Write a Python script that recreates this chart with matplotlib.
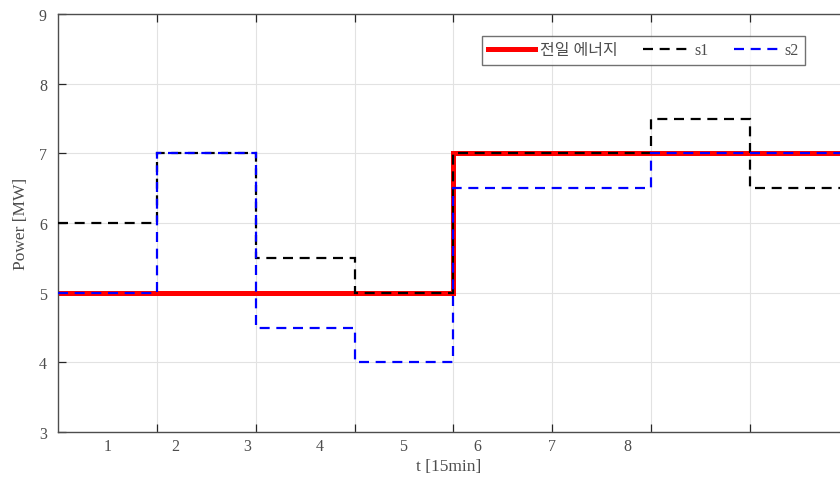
import numpy as np
import matplotlib
matplotlib.use("Agg")
import matplotlib.pyplot as plt
from matplotlib.transforms import blended_transform_factory

plt.rcParams['font.family'] = ['Liberation Serif', 'Noto Sans CJK KR']

# ── data ─────────────────────────────────────────────────────────────────────
edges    = [0, 1, 2, 3, 4, 5, 6, 7, 8]
prev_day = [5, 5, 5, 5, 7, 7, 7, 7]
s1       = [6, 7, 5.5, 5, 7, 7, 7.5, 6.5]
s2       = [5, 7, 4.5, 4, 6.5, 6.5, 7, 7]

tick_labels = ["1", "2", "3", "4", "5", "6", "7", "8"]
label_pos   = [0.50, 1.19, 1.91, 2.65, 3.49, 4.24, 5.00, 5.76]

fig = plt.figure(figsize=(8.4, 4.81), dpi=100)
ax = fig.add_axes([58 / 840, 1 - 433 / 481, 1 - 58 / 840, (433 - 15) / 481])

ax.stairs(prev_day, edges, baseline=None, color="#ff0000", lw=3.6,
          label="전일 에너지", zorder=2)
ax.stairs(s1, edges, baseline=None, color="black", lw=1.6,
          linestyle=(0, (4.5, 3)), label="s1", zorder=3)
ax.stairs(s2, edges, baseline=None, color="#0000ff", lw=1.6,
          linestyle=(0, (4.5, 3)), label="s2", zorder=4)

ax.set_xlim(0, 7.91)
ax.set_ylim(3, 9)
ax.set_xticks(range(1, 8))
ax.set_xticklabels([])
ax.set_yticks(range(3, 10))
ax.grid(True, color="#e2e2e2", lw=0.8, zorder=0)
ax.set_axisbelow(True)

ax.tick_params(axis="both", direction="in", length=6, width=0.9,
               colors="#262626", labelcolor="#4d4d4d", labelsize=11.5,
               top=True)
ax.tick_params(axis="y", pad=8)
for side in ("left", "bottom", "top"):
    ax.spines[side].set_color("#4d4d4d")
    ax.spines[side].set_linewidth(1.0)
ax.spines["right"].set_visible(False)

# tick labels sit off the tick marks in the original
trans = blended_transform_factory(ax.transData, ax.transAxes)
for pos, lab in zip(label_pos, tick_labels):
    ax.text(pos, -0.014, lab, transform=trans, ha="center", va="top",
            fontsize=11.5, color="#4d4d4d")

ax.set_xlabel("t [15min]", fontsize=12.5, color="#4d4d4d", labelpad=15)
ax.set_ylabel("Power [MW]", fontsize=12.5, color="#4d4d4d", labelpad=7)

leg = ax.legend(loc="upper left", bbox_to_anchor=(482 / 840, 1 - 37 / 481),
                bbox_transform=fig.transFigure, ncol=3, fontsize=11.5,
                frameon=True, fancybox=False, handlelength=2.9,
                handletextpad=0.3, columnspacing=1.6, borderpad=0.4,
                borderaxespad=0)
leg.get_frame().set_edgecolor("#4d4d4d")
leg.get_frame().set_linewidth(1.0)
for t in leg.get_texts():
    t.set_color("#4d4d4d")

fig.savefig("out.png", dpi=100)
